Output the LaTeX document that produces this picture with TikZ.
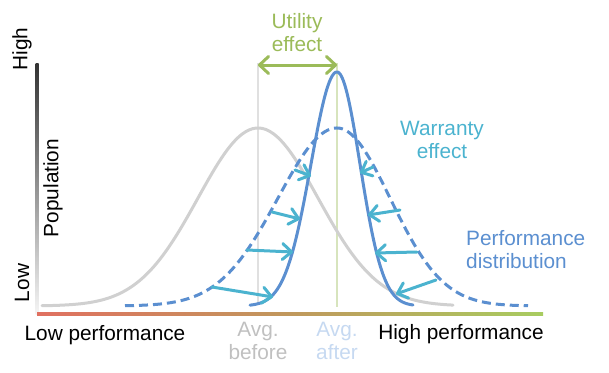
\documentclass[tikz,border=0pt]{standalone}
\usepackage{fontspec}
\setmainfont{Liberation Sans}
\usetikzlibrary{arrows.meta}
\definecolor{cgray}{HTML}{D0D0D0}
\definecolor{cblue}{HTML}{5B8FD0}
\definecolor{ccyan}{HTML}{4BB3CF}
\definecolor{cgreen}{HTML}{9BBB59}
\definecolor{cafter}{HTML}{C6D9F1}
\definecolor{cbefore}{HTML}{C0C0C0}
\definecolor{cgline}{HTML}{D7E4BD}
\definecolor{axred}{HTML}{E07060}
\definecolor{axmid}{HTML}{C0985C}
\definecolor{axgreen}{HTML}{A8CC60}
\begin{document}
\begin{tikzpicture}[x=1pt,y=-1pt,
  lbl/.style={font=\fontsize{20.8}{23}\selectfont, inner sep=0pt, align=center},
  curve/.style={line width=3pt, line cap=round},
  warr/.style={ccyan, line width=3pt, line cap=round, -{Straight Barb[length=9pt,width=16pt,line cap=round,line join=round]}},
  uarr/.style={cgreen, line width=3pt, {Straight Barb[length=9pt,width=17pt,line cap=round,line join=round]}-{Straight Barb[length=9pt,width=17pt,line cap=round,line join=round]}}]
\useasboundingbox (0,0) rectangle (609,372);
% axes
\shade[top color=black!80, bottom color=black!4] (35.5,63) rectangle (38.5,314);
\shade[left color=axred, right color=axgreen, middle color=axmid] (37,312.5) rectangle (543,315.5);
% text
\node[lbl, rotate=90] (high) at (22,49) {High};
\node[lbl, rotate=90] (low) at (22,283) {Low};
\node[lbl, rotate=90] (pop) at (53,188) {Population};
\node[lbl] (lowp) at (105,335) {Low performance};
\node[lbl] (highp) at (461,334) {High performance};
\node[lbl, text=cbefore] (before) at (258,341) {Avg.\\before};
\node[lbl, text=cafter] (after) at (337,341) {Avg.\\after};
\node[lbl, text=cgreen] (util) at (297,33) {Utility\\effect};
\node[lbl, text=ccyan] (warr) at (442,140) {Warranty\\effect};
\node[lbl, text=cblue, align=left, anchor=west] (perf) at (466,250) {Performance\\distribution};
% reference lines
\coordinate (bt) at (258,63);
\coordinate (bb) at (258,305);
\coordinate (at) at (337,63);
\coordinate (ab) at (337,307);
\draw[black!12, line width=2.5pt] (bt) -- (bb);
\draw[cgline, line width=1.5pt] (at) -- (ab);
% utility arrow
\coordinate (u1) at (258,65);
\coordinate (u2) at (337,65);
\draw[uarr] (u1) -- (u2);
% curves
\draw[curve, cgray] plot[domain=42:453, samples=120, smooth] (\x, {306-178*exp(-0.5*((\x-258)/60)^2)});
\draw[curve, cblue, line cap=butt, dash pattern=on 9pt off 5pt] plot[domain=125:528, samples=140, smooth] (\x, {306-178*exp(-0.5*((\x-337)/((\x<337)?59:53))^2)});
\draw[curve, cblue] plot[domain=250:413, samples=120, smooth] (\x, {306-234*exp(-0.5*((\x-337)/((\x<337)?26:23))^2)});
% warranty arrows
\coordinate (a1s) at (295,170); \coordinate (a1e) at (311,176);
\coordinate (a2s) at (272,212); \coordinate (a2e) at (300,219);
\coordinate (a3s) at (247,250); \coordinate (a3e) at (293,252);
\coordinate (a4s) at (212,287); \coordinate (a4e) at (273,297);
\coordinate (a5s) at (373,167); \coordinate (a5e) at (360,173);
\coordinate (a6s) at (400,210); \coordinate (a6e) at (368,215);
\coordinate (a7s) at (417,252); \coordinate (a7e) at (375,253);
\coordinate (a8s) at (436,280); \coordinate (a8e) at (396,294);
\foreach \i in {1,...,8} \draw[warr] (a\i s) -- (a\i e);
\end{tikzpicture}
\end{document}
